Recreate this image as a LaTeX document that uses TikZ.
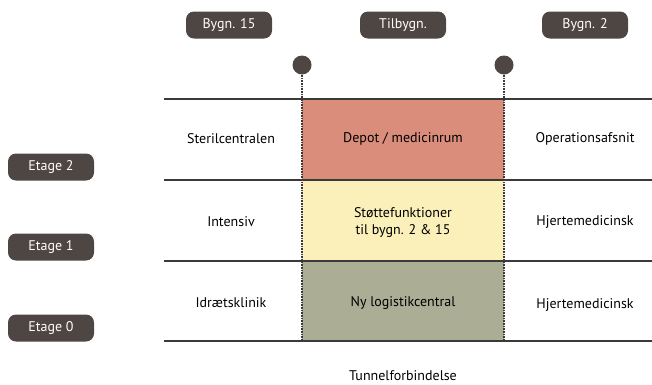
\documentclass[tikz,border=0pt]{standalone}
\usepackage{fontspec}
\setmainfont{PT Sans}
\definecolor{pill}{HTML}{4E4642}
\definecolor{redc}{HTML}{DA8D7B}
\definecolor{yelc}{HTML}{FBF0BA}
\definecolor{grnc}{HTML}{ABAD94}
\definecolor{linec}{HTML}{3A3A3A}
\begin{document}
\begin{tikzpicture}[x=1pt,y=-1pt,
  pillbox/.style={fill=pill,text=white,rounded corners=8pt,minimum width=86pt,minimum height=27pt,inner sep=0pt,font=\fontsize{14}{16}\selectfont},
  lbl/.style={font=\fontsize{14}{17}\selectfont,align=center,text=black},
  floor/.style={draw=linec,line width=1.1pt},
  divider/.style={draw=linec,line width=1.3pt,dash pattern=on 0.9pt off 0.7pt},
  pin/.style={circle,fill=pill,minimum size=19pt,inner sep=0pt}]
\useasboundingbox (0,0) rectangle (652,384);
% colored cells
\fill[redc] (302,99) rectangle (504,180);
\fill[yelc] (302,180) rectangle (504,261);
\fill[grnc] (302,261) rectangle (504,341);
% pills top
\node[pillbox] (b15) at (229,25) {Bygn. 15};
\node[pillbox] (tilb) at (403,25) {Tilbygn.};
\node[pillbox] (b2) at (585,25) {Bygn. 2};
% etage pills
\node[pillbox] (e2) at (51,167) {Etage 2};
\node[pillbox] (e1) at (51,247) {Etage 1};
\node[pillbox] (e0) at (51,328) {Etage 0};
% pins
\node[pin] (p1) at (302,65) {};
\node[pin] (p2) at (504,65) {};
\coordinate (p1b) at (302,341);
\coordinate (p2b) at (504,341);
\draw[divider] (p1.south) -- (p1b);
\draw[divider] (p2.south) -- (p2b);
% floor lines
\coordinate (l3a) at (164,99);  \coordinate (l3b) at (652,99);
\coordinate (l2a) at (164,180); \coordinate (l2b) at (652,180);
\coordinate (l1a) at (164,261); \coordinate (l1b) at (652,261);
\coordinate (l0a) at (164,341); \coordinate (l0b) at (652,341);
\draw[floor] (l3a) -- (l3b);
\draw[floor] (l2a) -- (l2b);
\draw[floor] (l1a) -- (l1b);
\draw[floor] (l0a) -- (l0b);
% labels
\node[lbl] (s2a) at (231,139) {Sterilcentralen};
\node[lbl] (s2b) at (403,139) {Depot / medicinrum};
\node[lbl] (s2c) at (585,139) {Operationsafsnit};
\node[lbl] (s1a) at (231,222) {Intensiv};
\node[lbl] (s1b) at (403,222) {Støttefunktioner\\til bygn. 2 \& 15};
\node[lbl] (s1c) at (585,222) {Hjertemedicinsk};
\node[lbl] (s0a) at (231,303) {Idrætsklinik};
\node[lbl] (s0b) at (403,303) {Ny logistikcentral};
\node[lbl] (s0c) at (585,305) {Hjertemedicinsk};
\node[lbl] (tun) at (403,376) {Tunnelforbindelse};
\end{tikzpicture}
\end{document}
